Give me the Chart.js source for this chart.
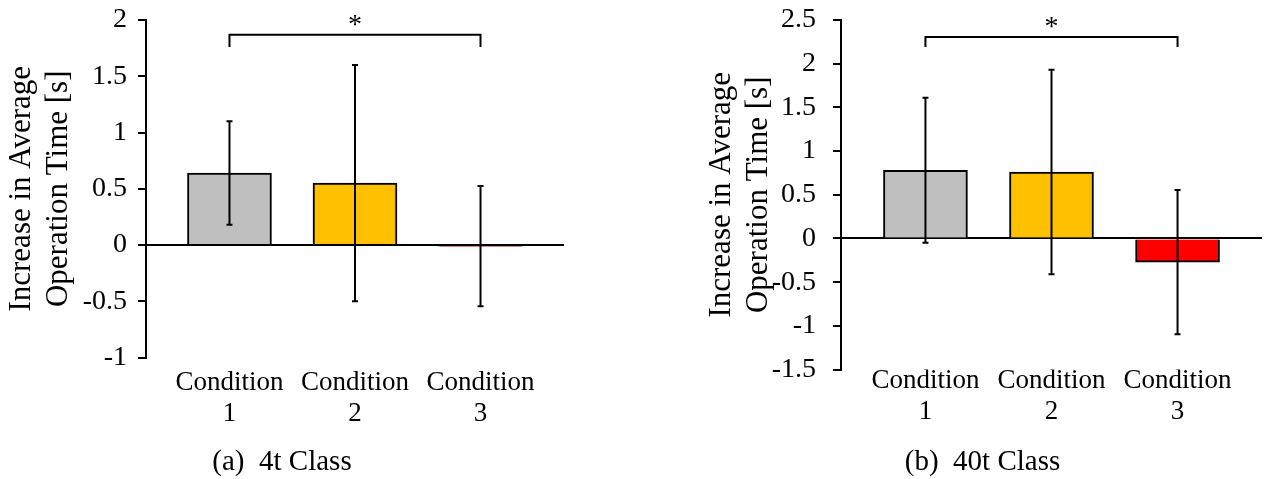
<!DOCTYPE html>
<html>
<head>
<meta charset="utf-8">
<script src="https://cdn.jsdelivr.net/npm/chart.js@4/dist/chart.umd.min.js"></script>
<style>
  body { margin: 0; background: #fff; }
  .wrap { position: absolute; top: 0; }
</style>
</head>
<body>
<div class="wrap" style="left:0px"><canvas id="chart4t" width="580" height="479"></canvas></div>
<div class="wrap" style="left:690px"><canvas id="chart40t" width="577" height="479"></canvas></div>
<script>
// categories shared by both panels
const categories = [['Condition', '1'], ['Condition', '2'], ['Condition', '3']];
const barColors = ['#BFBFBF', '#FFC000', '#FF0000'];

// (a) 4t class
const mean4t = [0.64, 0.55, -0.01];
const sd4t = [0.46, 1.05, 0.535];
const yTicks4t = { min: -1, max: 2, step: 0.5 };

// (b) 40t class
const mean40t = [0.78, 0.76, -0.27];
const sd40t = [0.83, 1.17, 0.825];
const yTicks40t = { min: -1.5, max: 2.5, step: 0.5 };

// significance bracket between condition 1 and 3
const sig4t = { from: 1, to: 3, level: 1.87, drop: 0.11, label: '*' };
const sig40t = { from: 1, to: 3, level: 2.305, drop: 0.115, label: '*' };

const serif = '"Liberation Serif", "Times New Roman", serif';

// error bars (mean +/- sd)
const errorBars = {
    id: 'errorBars',
    afterDatasetsDraw(chart, args, opts) {
        const ctx = chart.ctx;
        const x = chart.scales.x, y = chart.scales.y;
        const data = chart.data.datasets[0].data;
        ctx.save();
        ctx.strokeStyle = '#000';
        ctx.lineWidth = 2;
        opts.sd.forEach((e, i) => {
            const px = x.getPixelForValue(data[i].x);
            const top = y.getPixelForValue(data[i].y + e);
            const bot = y.getPixelForValue(data[i].y - e);
            ctx.beginPath();
            ctx.moveTo(px, top); ctx.lineTo(px, bot);
            ctx.moveTo(px - 3, top); ctx.lineTo(px + 3, top);
            ctx.moveTo(px - 3, bot); ctx.lineTo(px + 3, bot);
            ctx.stroke();
        });
        ctx.restore();
    }
};

// bracket with asterisk
const sigBracket = {
    id: 'sigBracket',
    afterDraw(chart, args, opts) {
        const ctx = chart.ctx;
        const x = chart.scales.x, y = chart.scales.y;
        const x1 = x.getPixelForValue(opts.from);
        const x2 = x.getPixelForValue(opts.to);
        const yl = y.getPixelForValue(opts.level);
        const yb = y.getPixelForValue(opts.level - opts.drop);
        ctx.save();
        ctx.strokeStyle = '#000';
        ctx.lineWidth = 2;
        ctx.beginPath();
        ctx.moveTo(x1, yb); ctx.lineTo(x1, yl); ctx.lineTo(x2, yl); ctx.lineTo(x2, yb);
        ctx.stroke();
        ctx.fillStyle = '#000';
        ctx.font = '28px ' + serif;
        ctx.textAlign = 'center';
        ctx.textBaseline = 'alphabetic';
        ctx.fillText(opts.label, (x1 + x2) / 2, yl - 2);
        ctx.restore();
    }
};

function makeChart(id, means, sds, yt, sig, caption, cfg) {
    const canvas = document.getElementById(id);
    return new Chart(canvas, {
        type: 'bar',
        data: {
            datasets: [{
                data: means.map((v, i) => ({ x: i + 1, y: v })),
                backgroundColor: barColors,
                borderColor: '#000',
                borderWidth: 2,
                barThickness: 84
            }]
        },
        options: {
            responsive: false,
            animation: false,
            layout: { padding: cfg.padding },
            plugins: {
                legend: { display: false },
                tooltip: { enabled: false },
                title: {
                    display: true,
                    position: 'bottom',
                    text: caption,
                    color: '#000',
                    font: { family: serif, size: 29, weight: 'normal', lineHeight: 1.05 },
                    padding: { top: 0, bottom: 1 }
                },
                errorBars: { sd: sds },
                sigBracket: sig
            },
            scales: {
                x: {
                    type: 'linear',
                    offset: false,
                    min: cfg.xMin,
                    max: cfg.xMax,
                    afterBuildTicks: (scale) => {
                        scale.ticks = categories.map((c, i) => ({ value: i + 1 }));
                    },
                    afterFit: (scale) => { scale.height = cfg.xHeight; },
                    grid: { display: false, drawTicks: false },
                    border: { display: false },
                    ticks: {
                        callback: (v) => categories[v - 1],
                        color: '#000',
                        padding: cfg.xPad,
                        maxRotation: 0,
                        autoSkip: false,
                        font: { family: serif, size: 27, lineHeight: 1.15 }
                    }
                },
                y: {
                    min: yt.min,
                    max: yt.max,
                    afterFit: (scale) => {
                        scale.width = cfg.yWidth;
                        scale.paddingTop = 0;
                        scale.paddingBottom = 0;
                    },
                    grid: {
                        color: (c) => (c.tick && c.tick.value === 0) ? '#000' : 'rgba(0,0,0,0)',
                        lineWidth: 2,
                        tickColor: '#000',
                        tickLength: 8,
                        tickWidth: 2
                    },
                    border: { display: true, color: '#000', width: 2 },
                    ticks: {
                        stepSize: yt.step,
                        color: '#000',
                        padding: cfg.yPad,
                        callback: (v) => String(v),
                        font: { family: serif, size: 28 }
                    },
                    title: {
                        display: true,
                        text: ['Increase in Average', 'Operation Time [s]'],
                        color: '#000',
                        font: { family: serif, size: 31, lineHeight: 37 / 31 },
                        padding: { top: cfg.titlePad, bottom: 0 }
                    }
                }
            }
        },
        plugins: [errorBars, sigBracket]
    });
}

makeChart('chart4t', mean4t, sd4t, yTicks4t, sig4t, '(a)  4t Class', {
    padding: { left: 0, right: 16, top: 20, bottom: 0 },
    xMin: 0.335, xMax: 3.665, xHeight: 90, xPad: 10, yWidth: 146, yPad: 11, titlePad: 3
});

makeChart('chart40t', mean40t, sd40t, yTicks40t, sig40t, '(b)  40t Class', {
    padding: { left: 13, right: 5, top: 20, bottom: 0 },
    xMin: 0.33, xMax: 3.67, xHeight: 78, xPad: -4, yWidth: 138, yPad: 17, titlePad: 0
});
</script>
</body>
</html>
